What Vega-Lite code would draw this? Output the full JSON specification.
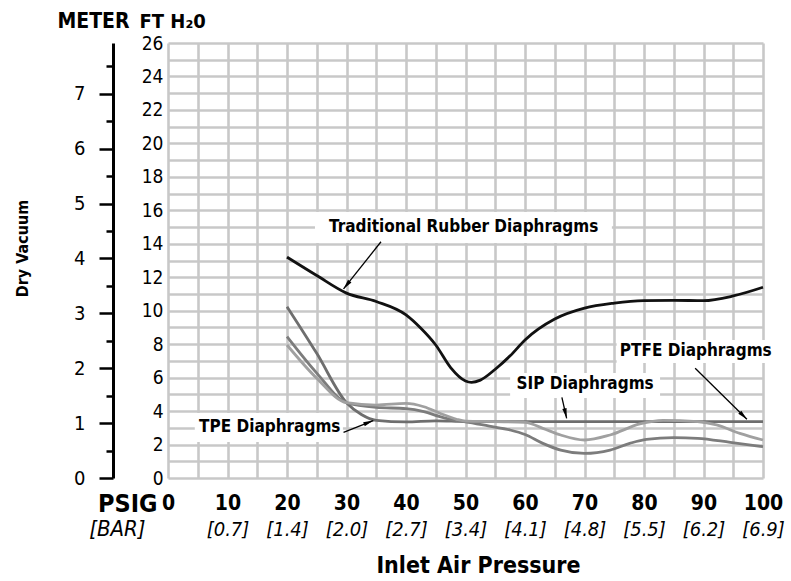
{
  "$schema": "https://vega.github.io/schema/vega-lite/v6.json",
  "width": 595,
  "height": 435,
  "autosize": {"type": "none"},
  "padding": {"left": 168, "top": 43, "right": 28, "bottom": 103},
  "background": "white",
  "config": {
    "view": {"stroke": null},
    "axis": {
      "labelFont": "Liberation Sans Narrow, DejaVu Sans Condensed, sans-serif",
      "titleFont": "Liberation Sans Narrow, DejaVu Sans Condensed, sans-serif",
      "labelColor": "#000000",
      "titleColor": "#000000",
      "labelFlush": false,
      "labelOverlap": false
    },
    "text": {"font": "Liberation Sans Narrow, DejaVu Sans Condensed, sans-serif"}
  },
  "datasets": {
    "curves": [
      {"series": "Traditional Rubber Diaphragms", "psig": 20, "ft": 13.2},
      {"series": "Traditional Rubber Diaphragms", "psig": 25, "ft": 12.1},
      {"series": "Traditional Rubber Diaphragms", "psig": 30, "ft": 11.05},
      {"series": "Traditional Rubber Diaphragms", "psig": 35, "ft": 10.55},
      {"series": "Traditional Rubber Diaphragms", "psig": 40, "ft": 9.75},
      {"series": "Traditional Rubber Diaphragms", "psig": 42.5, "ft": 8.95},
      {"series": "Traditional Rubber Diaphragms", "psig": 45, "ft": 7.95},
      {"series": "Traditional Rubber Diaphragms", "psig": 47.5, "ft": 6.6},
      {"series": "Traditional Rubber Diaphragms", "psig": 50, "ft": 5.8},
      {"series": "Traditional Rubber Diaphragms", "psig": 51, "ft": 5.72},
      {"series": "Traditional Rubber Diaphragms", "psig": 52.5, "ft": 5.85},
      {"series": "Traditional Rubber Diaphragms", "psig": 55, "ft": 6.5},
      {"series": "Traditional Rubber Diaphragms", "psig": 57.5, "ft": 7.3},
      {"series": "Traditional Rubber Diaphragms", "psig": 60, "ft": 8.25},
      {"series": "Traditional Rubber Diaphragms", "psig": 65, "ft": 9.5},
      {"series": "Traditional Rubber Diaphragms", "psig": 70, "ft": 10.15},
      {"series": "Traditional Rubber Diaphragms", "psig": 75, "ft": 10.45},
      {"series": "Traditional Rubber Diaphragms", "psig": 80, "ft": 10.6},
      {"series": "Traditional Rubber Diaphragms", "psig": 85, "ft": 10.62},
      {"series": "Traditional Rubber Diaphragms", "psig": 90, "ft": 10.6},
      {"series": "Traditional Rubber Diaphragms", "psig": 95, "ft": 10.88},
      {"series": "Traditional Rubber Diaphragms", "psig": 100, "ft": 11.4},
      {"series": "SIP Diaphragms", "psig": 20, "ft": 10.24},
      {"series": "SIP Diaphragms", "psig": 25, "ft": 7.45},
      {"series": "SIP Diaphragms", "psig": 30, "ft": 4.5},
      {"series": "SIP Diaphragms", "psig": 32.5, "ft": 3.8},
      {"series": "SIP Diaphragms", "psig": 35, "ft": 3.45},
      {"series": "SIP Diaphragms", "psig": 40, "ft": 3.36},
      {"series": "SIP Diaphragms", "psig": 45, "ft": 3.42},
      {"series": "SIP Diaphragms", "psig": 50, "ft": 3.38},
      {"series": "SIP Diaphragms", "psig": 60, "ft": 3.37},
      {"series": "SIP Diaphragms", "psig": 70, "ft": 3.37},
      {"series": "SIP Diaphragms", "psig": 80, "ft": 3.37},
      {"series": "SIP Diaphragms", "psig": 90, "ft": 3.37},
      {"series": "SIP Diaphragms", "psig": 100, "ft": 3.37},
      {"series": "TPE Diaphragms", "psig": 20, "ft": 8.45},
      {"series": "TPE Diaphragms", "psig": 25, "ft": 6.27},
      {"series": "TPE Diaphragms", "psig": 30, "ft": 4.5},
      {"series": "TPE Diaphragms", "psig": 35, "ft": 4.22},
      {"series": "TPE Diaphragms", "psig": 40, "ft": 4.15},
      {"series": "TPE Diaphragms", "psig": 43, "ft": 3.97},
      {"series": "TPE Diaphragms", "psig": 45.7, "ft": 3.67},
      {"series": "TPE Diaphragms", "psig": 48.5, "ft": 3.43},
      {"series": "TPE Diaphragms", "psig": 50, "ft": 3.36},
      {"series": "TPE Diaphragms", "psig": 54, "ft": 3.1},
      {"series": "TPE Diaphragms", "psig": 57.5, "ft": 2.87},
      {"series": "TPE Diaphragms", "psig": 60, "ft": 2.6},
      {"series": "TPE Diaphragms", "psig": 63, "ft": 2.07},
      {"series": "TPE Diaphragms", "psig": 66, "ft": 1.67},
      {"series": "TPE Diaphragms", "psig": 70, "ft": 1.47},
      {"series": "TPE Diaphragms", "psig": 74.3, "ft": 1.67},
      {"series": "TPE Diaphragms", "psig": 77.6, "ft": 2.07},
      {"series": "TPE Diaphragms", "psig": 80.4, "ft": 2.31},
      {"series": "TPE Diaphragms", "psig": 85, "ft": 2.41},
      {"series": "TPE Diaphragms", "psig": 89, "ft": 2.37},
      {"series": "TPE Diaphragms", "psig": 94.5, "ft": 2.13},
      {"series": "TPE Diaphragms", "psig": 100, "ft": 1.87},
      {"series": "PTFE Diaphragms", "psig": 20, "ft": 7.95},
      {"series": "PTFE Diaphragms", "psig": 25, "ft": 5.96},
      {"series": "PTFE Diaphragms", "psig": 30, "ft": 4.5},
      {"series": "PTFE Diaphragms", "psig": 35, "ft": 4.36},
      {"series": "PTFE Diaphragms", "psig": 40, "ft": 4.46},
      {"series": "PTFE Diaphragms", "psig": 43, "ft": 4.26},
      {"series": "PTFE Diaphragms", "psig": 45.7, "ft": 3.87},
      {"series": "PTFE Diaphragms", "psig": 48.5, "ft": 3.51},
      {"series": "PTFE Diaphragms", "psig": 50, "ft": 3.4},
      {"series": "PTFE Diaphragms", "psig": 55, "ft": 3.37},
      {"series": "PTFE Diaphragms", "psig": 60, "ft": 3.33},
      {"series": "PTFE Diaphragms", "psig": 63, "ft": 2.97},
      {"series": "PTFE Diaphragms", "psig": 66, "ft": 2.57},
      {"series": "PTFE Diaphragms", "psig": 70, "ft": 2.27},
      {"series": "PTFE Diaphragms", "psig": 74.3, "ft": 2.57},
      {"series": "PTFE Diaphragms", "psig": 79.3, "ft": 3.23},
      {"series": "PTFE Diaphragms", "psig": 83.2, "ft": 3.45},
      {"series": "PTFE Diaphragms", "psig": 89, "ft": 3.37},
      {"series": "PTFE Diaphragms", "psig": 92.2, "ft": 3.17},
      {"series": "PTFE Diaphragms", "psig": 96.1, "ft": 2.67},
      {"series": "PTFE Diaphragms", "psig": 100, "ft": 2.27}
    ],
    "notes": [
      {"label": "Traditional Rubber Diaphragms", "tx": 49.7, "ty": 15.0, "bx1": 24.7, "bx2": 74.6, "by1": 14.05, "by2": 15.9, "ax1": 35.8, "ay1": 14.12, "ax2": 29.5, "ay2": 11.3},
      {"label": "TPE Diaphragms", "tx": 17.1, "ty": 3.02, "bx1": 4.5, "bx2": 29.4, "by1": 2.15, "by2": 3.89, "ax1": 29.5, "ay1": 2.73, "ax2": 34.5, "ay2": 3.43},
      {"label": "SIP Diaphragms", "tx": 70.1, "ty": 5.62, "bx1": 57.5, "bx2": 82.7, "by1": 4.78, "by2": 6.28, "ax1": 66.2, "ay1": 4.82, "ax2": 67.0, "ay2": 3.57},
      {"label": "PTFE Diaphragms", "tx": 88.7, "ty": 7.59, "bx1": 75.4, "bx2": 101.7, "by1": 6.87, "by2": 8.25, "ax1": 88.6, "ay1": 6.56, "ax2": 97.3, "ay2": 3.51}
    ],
    "meter": [{"meter": 0}, {"meter": 7.925}]
  },
  "layer": [
    {
      "data": {"name": "notes"},
      "mark": {"type": "rect", "fill": "white"},
      "encoding": {
        "x": {"field": "bx1", "type": "quantitative", "scale": {"domain": [0, 100], "nice": false},
          "axis": {"orient": "bottom", "values": [0, 10, 20, 30, 40, 50, 60, 70, 80, 90, 100],
            "labelExpr": "['','[0.7]','[1.4]','[2.0]','[2.7]','[3.4]','[4.1]','[4.8]','[5.5]','[6.2]','[6.9]'][round(datum.value/10)]",
            "grid": false, "ticks": false, "domain": false,
            "labelFontSize": 20, "labelFontStyle": "italic", "labelFontWeight": "normal",
            "labelBaseline": "alphabetic", "labelPadding": 57,
            "title": "[BAR]", "titleFontSize": 22, "titleFontStyle": "italic", "titleFontWeight": "normal",
            "titleX": -23, "titleY": 57, "titleAlign": "right", "titleBaseline": "alphabetic", "titleAngle": 0}},
        "x2": {"field": "bx2"},
        "y": {"field": "by1", "type": "quantitative", "scale": {"domain": [0, 26], "nice": false}, "axis": null},
        "y2": {"field": "by2"}
      }
    },
    {
      "data": {"name": "curves"},
      "mark": {"type": "line", "interpolate": "monotone", "strokeWidth": 2.8},
      "encoding": {
        "x": {"field": "psig", "type": "quantitative", "scale": {"domain": [0, 100], "nice": false},
          "axis": {"orient": "bottom", "values": [0, 5, 10, 15, 20, 25, 30, 35, 40, 45, 50, 55, 60, 65, 70, 75, 80, 85, 90, 95, 100],
            "labelExpr": "datum.value % 10 === 0 ? datum.label : ''",
            "grid": true, "gridColor": "#c8c8c8", "gridWidth": 2.6,
            "ticks": false, "domain": false,
            "labelFontSize": 21, "labelFontWeight": "bold",
            "labelBaseline": "alphabetic", "labelPadding": 31,
            "title": "PSIG", "titleFontSize": 25, "titleFontWeight": "bold",
            "titleX": -11, "titleY": 33, "titleAlign": "right", "titleBaseline": "alphabetic", "titleAngle": 0}},
        "y": {"field": "ft", "type": "quantitative", "scale": {"domain": [0, 26], "nice": false},
          "axis": {"orient": "left", "values": [0,1,2,3,4,5,6,7,8,9,10,11,12,13,14,15,16,17,18,19,20,21,22,23,24,25,26],
            "labelExpr": "datum.value % 2 === 0 ? datum.label : ''",
            "grid": true, "gridColor": "#c8c8c8", "gridWidth": 2.6,
            "ticks": false, "domain": false,
            "labelFontSize": 19, "labelPadding": 5,
            "title": "FT H₂0", "titleFontSize": 20, "titleFontWeight": "bold",
            "titleX": -29, "titleY": -16, "titleAlign": "left", "titleBaseline": "alphabetic", "titleAngle": 0}},
        "color": {"field": "series", "type": "nominal",
          "scale": {"domain": ["Traditional Rubber Diaphragms", "SIP Diaphragms", "TPE Diaphragms", "PTFE Diaphragms"],
            "range": ["#111111", "#6e6e6e", "#7c7c7c", "#a0a0a0"]},
          "legend": null}
      }
    },
    {
      "data": {"name": "notes"},
      "mark": {"type": "rule", "color": "#000000", "strokeWidth": 1.3},
      "encoding": {
        "x": {"field": "ax1", "type": "quantitative", "scale": {"domain": [0, 100], "nice": false}, "axis": null},
        "x2": {"field": "ax2"},
        "y": {"field": "ay1", "type": "quantitative", "scale": {"domain": [0, 26], "nice": false}, "axis": null},
        "y2": {"field": "ay2"}
      }
    },
    {
      "data": {"name": "notes"},
      "transform": [{"calculate": "atan2((datum.ax2 - datum.ax1) * 5.95, (datum.ay2 - datum.ay1) * 16.73) * 180 / PI", "as": "angle"}],
      "mark": {"type": "point", "filled": true, "color": "#000000", "opacity": 1, "shape": "M0,0L-0.22,1L0.22,1Z", "size": 400},
      "encoding": {
        "x": {"field": "ax2", "type": "quantitative", "scale": {"domain": [0, 100], "nice": false}, "axis": null},
        "y": {"field": "ay2", "type": "quantitative", "scale": {"domain": [0, 26], "nice": false}, "axis": null},
        "angle": {"field": "angle", "type": "quantitative", "scale": null}
      }
    },
    {
      "data": {"name": "notes"},
      "mark": {"type": "text", "fontSize": 17, "fontWeight": "bold", "color": "#000000", "align": "center", "baseline": "middle"},
      "encoding": {
        "x": {"field": "tx", "type": "quantitative", "scale": {"domain": [0, 100], "nice": false},
          "axis": {"orient": "bottom", "labels": false, "grid": false, "ticks": false, "domain": false,
            "title": "Inlet Air Pressure", "titleFontSize": 23, "titleFontWeight": "bold",
            "titleX": 310, "titleY": 94, "titleAlign": "center", "titleBaseline": "alphabetic", "titleAngle": 0}},
        "y": {"field": "ty", "type": "quantitative", "scale": {"domain": [0, 26], "nice": false}, "axis": null},
        "text": {"field": "label"}
      }
    },
    {
      "data": {"name": "meter"},
      "mark": {"type": "point", "opacity": 0},
      "encoding": {
        "y": {"field": "meter", "type": "quantitative", "scale": {"domain": [0, 7.925], "nice": false},
          "axis": {"orient": "left", "offset": 55, "values": [0, 1, 2, 3, 4, 5, 6, 7],
            "grid": false, "domain": true, "domainColor": "#000000", "domainWidth": 3,
            "ticks": true, "tickColor": "#000000", "tickWidth": 2.5, "tickSize": 14,
            "labelFontSize": 20, "labelPadding": 14,
            "title": "METER", "titleFontSize": 21, "titleFontWeight": "bold",
            "titleX": -56, "titleY": -16, "titleAlign": "left", "titleBaseline": "alphabetic", "titleAngle": 0}}
      }
    },
    {
      "data": {"name": "meter"},
      "mark": {"type": "point", "opacity": 0},
      "encoding": {
        "y": {"field": "meter", "type": "quantitative", "scale": {"domain": [0, 7.925], "nice": false},
          "axis": {"orient": "left", "offset": 55, "values": [0.5, 1.5, 2.5, 3.5, 4.5, 5.5, 6.5, 7.5],
            "grid": false, "domain": false, "labels": false,
            "ticks": true, "tickColor": "#000000", "tickWidth": 2.5, "tickSize": 7,
            "title": "Dry Vacuum", "titleFontSize": 16, "titleFontWeight": "bold",
            "titleX": -86, "titleY": 205, "titleAlign": "center", "titleBaseline": "alphabetic", "titleAngle": 270}}
      }
    }
  ],
  "resolve": {"scale": {"y": "independent"}, "axis": {"x": "independent", "y": "independent"}}
}
